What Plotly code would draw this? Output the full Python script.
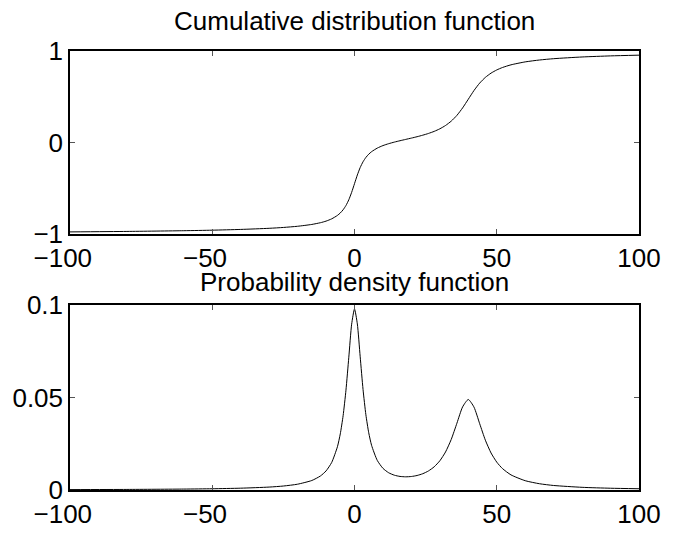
import plotly.graph_objects as go

# x positions where values were read
x_vals = [-100, -80, -60, -50, -40, -30, -25, -20, -15, -12, -10, -8, -6, -5, -4, -3, -2, -1,
          0, 1, 2, 3, 4, 5, 6, 8, 10, 12, 14, 16, 18, 20, 22, 24, 26, 28, 30, 32, 34, 36, 38,
          40, 42, 44, 46, 48, 50, 52, 55, 60, 65, 70, 80, 90, 100]

cdf_vals = [-0.9745, -0.9694, -0.9615, -0.9557, -0.9476, -0.9352, -0.9260, -0.9131, -0.8931,
            -0.8744, -0.8568, -0.8318, -0.7946, -0.7680, -0.7330, -0.6864, -0.6238, -0.5429,
            -0.4480, -0.3530, -0.2718, -0.2090, -0.1619, -0.1264, -0.0990, -0.0600, -0.0325,
            -0.0117, 0.0055, 0.0207, 0.0351, 0.0494, 0.0645, 0.0812, 0.1001, 0.1227, 0.1508,
            0.1869, 0.2344, 0.2975, 0.3788, 0.4738, 0.5687, 0.6496, 0.7121, 0.7586, 0.7933,
            0.8198, 0.8490, 0.8811, 0.9017, 0.9161, 0.9348, 0.9466, 0.9546]

pdf_vals = [0.000212, 0.000309, 0.000500, 0.000676, 0.000978, 0.001578, 0.002144, 0.003133,
            0.005138, 0.007546, 0.010299, 0.014921, 0.023375, 0.030284, 0.040125, 0.053921,
            0.071707, 0.089563, 0.097735, 0.089688, 0.071957, 0.054298, 0.040632, 0.030924,
            0.024153, 0.015994, 0.011699, 0.009320, 0.007997, 0.007327, 0.007119, 0.007293,
            0.007838, 0.008803, 0.010299, 0.012522, 0.015787, 0.020547, 0.027306, 0.036077,
            0.044895, 0.048881, 0.044765, 0.035813, 0.026900, 0.019986, 0.015052, 0.011588,
            0.008169, 0.005027, 0.003390, 0.002440, 0.001442, 0.000955, 0.000682]

x_ticks = [-100, -50, 0, 50, 100]
x_tick_text = ["\u2212100\u00a0\u00a0", "\u221250\u00a0\u00a0", "0", "50", "100"]
cdf_ticks = [-1, 0, 1]
pdf_ticks = [0, 0.05, 0.1]
titles = ["Cumulative distribution function", "Probability density function"]

FONT = "Liberation Sans, Arial, Helvetica, sans-serif"
FS = 26

fig = go.Figure()
fig.add_trace(go.Scatter(x=x_vals, y=cdf_vals, mode="lines",
                         line=dict(color="black", width=1, shape="spline", smoothing=0.6),
                         xaxis="x", yaxis="y", showlegend=False, hoverinfo="skip"))
fig.add_trace(go.Scatter(x=x_vals, y=pdf_vals, mode="lines",
                         line=dict(color="black", width=1, shape="spline", smoothing=0.6),
                         xaxis="x2", yaxis="y2", showlegend=False, hoverinfo="skip"))

axis_common = dict(showline=True, linecolor="black", linewidth=1.5, mirror="ticks", ticks="inside",
                   ticklen=5, tickcolor="#555555", tickwidth=1, showgrid=False, zeroline=False,
                   tickfont=dict(family=FONT, size=FS, color="black"))

top_dom = [(511 - 243) / 460, 1.0]
bot_dom = [0.0, (511 - 317) / 460]

fig.update_layout(
    width=673, height=541,
    margin=dict(l=66, r=23, t=51, b=30),
    paper_bgcolor="white", plot_bgcolor="white",
    xaxis=dict(domain=[0, 1], range=[-100, 100], tickvals=x_ticks, ticktext=x_tick_text,
               anchor="y", **axis_common),
    yaxis=dict(domain=top_dom, range=[-1, 1], tickvals=cdf_ticks, anchor="x", **axis_common),
    xaxis2=dict(domain=[0, 1], range=[-100, 100], tickvals=x_ticks, ticktext=x_tick_text,
                anchor="y2", **axis_common),
    yaxis2=dict(domain=bot_dom, range=[0, 0.1], tickvals=pdf_ticks, anchor="x2", **axis_common),
    annotations=[
        dict(text=titles[0], x=0.5, y=1.0, xref="paper", yref="paper", xanchor="center", yanchor="bottom",
             yshift=13, showarrow=False, font=dict(family=FONT, size=FS, color="black")),
        dict(text=titles[1], x=0.5, y=bot_dom[1], xref="paper", yref="paper", xanchor="center", yanchor="bottom",
             yshift=6, showarrow=False, font=dict(family=FONT, size=FS, color="black")),
    ],
)

fig.write_html("out.html")
